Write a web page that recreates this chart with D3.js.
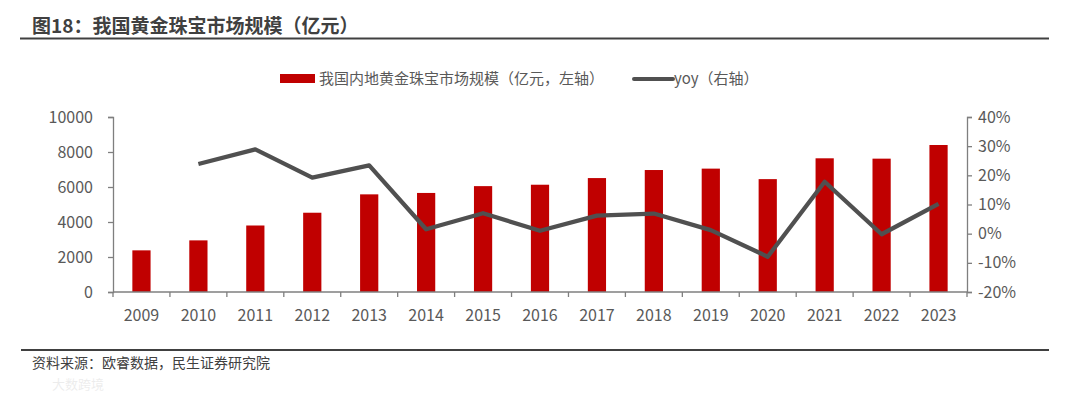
<!DOCTYPE html>
<html>
<head>
<meta charset="utf-8">
<script src="https://cdn.jsdelivr.net/npm/d3@7"></script>
<style>
  body { margin: 0; background: #fff; }
  svg { display: block; font-family: "Noto Sans CJK SC", "Noto Sans", sans-serif; }
</style>
</head>
<body>
<div id="chart"></div>
<script>
// data
var years = ["2009", "2010", "2011", "2012", "2013", "2014", "2015", "2016",
             "2017", "2018", "2019", "2020", "2021", "2022", "2023"];
var marketSize = [2380, 2950, 3800, 4530, 5580, 5660, 6050, 6130,
                  6510, 6970, 7050, 6450, 7640, 7620, 8400];
var yoy = [null, 23.9, 28.9, 19.2, 23.4, 1.5, 7.0, 1.0,
           6.2, 6.9, 1.2, -7.9, 17.8, -0.2, 10.2];
var leftTicks = [0, 2000, 4000, 6000, 8000, 10000];
var rightTicks = [-20, -10, 0, 10, 20, 30, 40];

var titleText = "图18：我国黄金珠宝市场规模（亿元）";
var barName = "我国内地黄金珠宝市场规模（亿元，左轴）";
var lineName = "yoy（右轴）";
var sourceText = "资料来源：欧睿数据，民生证券研究院";

var svgWidth = 1080, svgHeight = 394;
var margin = { top: 117, bottom: 102, left: 113, right: 113 };
var width = svgWidth - margin.left - margin.right;
var height = svgHeight - margin.top - margin.bottom;

var svg = d3.select("#chart").append("svg")
    .attr("width", svgWidth)
    .attr("height", svgHeight);

// title + rules
svg.append("text")
    .attr("x", 32).attr("y", 33)
    .attr("font-size", 19).attr("font-weight", "bold")
    .attr("fill", "#404040")
    .text(titleText);
svg.append("line")
    .attr("x1", 20).attr("x2", 1049).attr("y1", 38.5).attr("y2", 38.5)
    .attr("stroke", "#404040").attr("stroke-width", 2);
svg.append("line")
    .attr("x1", 21).attr("x2", 1049).attr("y1", 350).attr("y2", 350)
    .attr("stroke", "#404040").attr("stroke-width", 2);
svg.append("text")
    .attr("x", 32).attr("y", 368)
    .attr("font-size", 14).attr("fill", "#404040")
    .text(sourceText);
// faint watermark
svg.append("text")
    .attr("x", 52).attr("y", 389)
    .attr("font-size", 13).attr("fill", "#000").attr("opacity", 0.07)
    .text("大数跨境");

var chartGroup = svg.append("g")
    .attr("transform", `translate(${margin.left}, ${margin.top})`);

var xScale = d3.scaleBand()
    .domain(years)
    .range([0, width])
    .paddingInner(0.68)
    .paddingOuter(0.34);

var yLeft = d3.scaleLinear().domain([0, 10000]).range([height, 0]);
var yRight = d3.scaleLinear().domain([-20, 40]).range([height, 0]);

// bars
chartGroup.selectAll(".bar")
    .data(marketSize)
    .enter()
    .append("rect")
    .attr("class", "bar")
    .attr("x", (d, i) => xScale(years[i]))
    .attr("y", d => yLeft(d))
    .attr("width", xScale.bandwidth())
    .attr("height", d => height - yLeft(d))
    .attr("fill", "#C00000");

// yoy line
var line = d3.line()
    .defined(d => d.v !== null)
    .x(d => xScale(d.year) + xScale.bandwidth() / 2)
    .y(d => yRight(d.v));
chartGroup.append("path")
    .datum(years.map((y, i) => ({ year: y, v: yoy[i] })))
    .attr("d", line)
    .attr("fill", "none")
    .attr("stroke", "#505050")
    .attr("stroke-width", 4.3)
    .attr("stroke-linejoin", "round");

// axes
var axisColor = "#7f7f7f";
var labelColor = "#595959";

var leftAxis = chartGroup.append("g")
    .call(d3.axisLeft(yLeft).tickValues(leftTicks).tickSize(5).tickPadding(15)
        .tickFormat(d3.format("d")));
var rightAxis = chartGroup.append("g")
    .attr("transform", `translate(${width}, 0)`)
    .call(d3.axisRight(yRight).tickValues(rightTicks).tickSize(5).tickPadding(6)
        .tickFormat(d => d + "%"));

// x axis: ticks on category boundaries
var xTickScale = d3.scaleLinear().domain([0, years.length]).range([0, width]);
var xAxis = chartGroup.append("g")
    .attr("transform", `translate(0, ${height})`);
xAxis.append("line")
    .attr("x1", 0).attr("x2", width)
    .attr("stroke", axisColor).attr("stroke-width", 1.3);
xAxis.selectAll(".xtick")
    .data(d3.range(years.length + 1))
    .enter()
    .append("line")
    .attr("x1", d => xTickScale(d)).attr("x2", d => xTickScale(d))
    .attr("y1", 0).attr("y2", 5)
    .attr("stroke", axisColor).attr("stroke-width", 1.3);
xAxis.selectAll(".xlabel")
    .data(years)
    .enter()
    .append("text")
    .attr("x", d => xScale(d) + xScale.bandwidth() / 2)
    .attr("y", 29)
    .attr("text-anchor", "middle")
    .attr("font-size", 16)
    .attr("fill", labelColor)
    .text(d => d);

[leftAxis, rightAxis].forEach(function (ax) {
    ax.select(".domain").attr("stroke", axisColor).attr("stroke-width", 1.3);
    ax.selectAll(".tick line").attr("stroke", axisColor).attr("stroke-width", 1.3);
    ax.selectAll(".tick text")
        .attr("font-size", 16)
        .attr("fill", labelColor)
        .attr("font-family", "Noto Sans CJK SC, Noto Sans, sans-serif");
});

// legend
var legend = svg.append("g");
legend.append("rect")
    .attr("x", 280).attr("y", 74).attr("width", 35).attr("height", 9)
    .attr("fill", "#C00000");
legend.append("text")
    .attr("x", 319).attr("y", 84)
    .attr("font-size", 15).attr("fill", labelColor)
    .text(barName);
legend.append("line")
    .attr("x1", 634).attr("x2", 673).attr("y1", 79).attr("y2", 79)
    .attr("stroke", "#505050").attr("stroke-width", 4).attr("stroke-linecap", "round");
legend.append("text")
    .attr("x", 674).attr("y", 84)
    .attr("font-size", 15).attr("fill", labelColor)
    .text(lineName);
</script>
</body>
</html>
